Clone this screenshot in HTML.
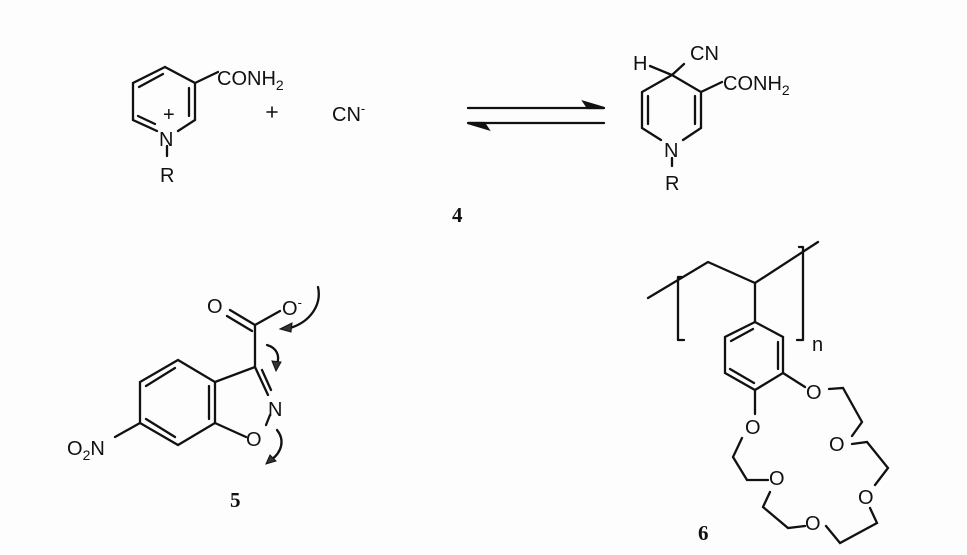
<!DOCTYPE html>
<html><head><meta charset="utf-8"><style>
html,body{margin:0;padding:0;background:#fdfdfd;}
svg{display:block;}
text{font-family:"Liberation Sans",sans-serif;font-size:20px;fill:#111;}
.lbl{font-family:"Liberation Serif",serif;font-weight:bold;font-size:21px;}
</style></head><body>
<svg width="967" height="555" viewBox="0 0 967 555" xmlns="http://www.w3.org/2000/svg">
<g stroke="#111" stroke-width="2.3" fill="none" stroke-linecap="round">
<path d="M165,67 L195,83 L195,120 L178,131 M157,131 L133,120 L133,83 L165,67 M195,83 L218,72"/>
<path d="M139,87 L163,74 M189,88 L189,116 M138,116 L155,124"/>
<path d="M167,146 L167,156"/>
<path d="M267,112 L277,112 M272,107 L272,117" stroke-width="1.6"/>
<path d="M468,108 L604,108 M468,123 L604,123"/>
<path d="M604,108 L584,102 L588,108 Z M468,123 L488,129 L484,123 Z" fill="#111"/>
<path d="M650,66 L672,75 L701,92 L701,128 L683,140 M661,140 L642,128 L642,92 L672,75 M672,75 L684,64 M701,92 L722,82"/>
<path d="M695,96 L695,124 M648,96 L648,124"/>
<path d="M672,158 L672,166"/>
<path d="M178,360 L215,382 L215,423 L178,445 L140,423 L140,382 Z"/>
<path d="M146,386 L175,368 M209,386 L209,419 M146,419 L175,437"/>
<path d="M215,382 L255,367 L268,395 M255,367 L255,325 M215,423 L246,437"/>
<path d="M262,370 L271,390"/>
<path d="M255,325 L230,310 M252,331 L227,316 M255,325 L280,311"/>
<path d="M270,415 L266,425"/>
<path d="M140,423 L115,437"/>
<path d="M318,287 C322,305 310,322 290,328"/>
<path d="M267,345 C277,348 280,356 277,364"/>
<path d="M277,430 C285,440 282,452 271,460"/>
<path d="M280,329 L292,323 L291,332 Z M276,371 L272,361 L281,362 Z M266,464 L270,455 L276,461 Z" fill="#333" stroke-width="1"/>
<path d="M678,277 L678,340 M678,277 L682,277 M678,340 L684,340 M803,247 L803,340 M803,247 L799,247 M803,340 L797,340"/>
<path d="M648,298 L708,262 L755,283 L818,242 M755,283 L755,322"/>
<path d="M755,322 L783,337 L783,373 L755,390 L725,373 L725,337 Z"/>
<path d="M731,341 L753,329 M778,342 L778,369 M730,369 L754,383"/>
<path d="M783,373 L805,387 M755,390 L755,414"/>
<path d="M829,389 L843,388 L862,422 L852,436 M852,444 L867,442 L888,468 L875,485 M870,508 L877,523 L840,543 L826,526 M805,526 L788,528 L763,507 L770,492 M768,480 L747,480 L733,457 L742,438"/>
</g>
<text x="217" y="85">CONH<tspan font-size="14" dy="5">2</tspan></text>
<text x="163" y="121" font-size="16">+</text>
<text x="159" y="146">N</text>
<text x="160" y="182">R</text>
<text x="332" y="121">CN<tspan font-size="13" dy="-8">-</tspan></text>
<text x="633" y="70">H</text>
<text x="690" y="60">CN</text>
<text x="723" y="90">CONH<tspan font-size="14" dy="5">2</tspan></text>
<text x="664" y="157">N</text>
<text x="665" y="190">R</text>
<text class="lbl" x="452" y="222">4</text>
<text x="207" y="313">O</text>
<text x="282" y="315">O<tspan font-size="13" dy="-8">-</tspan></text>
<text x="268" y="416">N</text>
<text x="246" y="446">O</text>
<text x="67" y="455">O<tspan font-size="14" dy="5">2</tspan><tspan dy="-5">N</tspan></text>
<text class="lbl" x="230" y="507">5</text>
<text x="812" y="351">n</text>
<text x="806" y="399">O</text>
<text x="745" y="434">O</text>
<text x="829" y="451">O</text>
<text x="769" y="485">O</text>
<text x="858" y="504">O</text>
<text x="805" y="530">O</text>
<text class="lbl" x="698" y="540">6</text>
</svg>
</body></html>
